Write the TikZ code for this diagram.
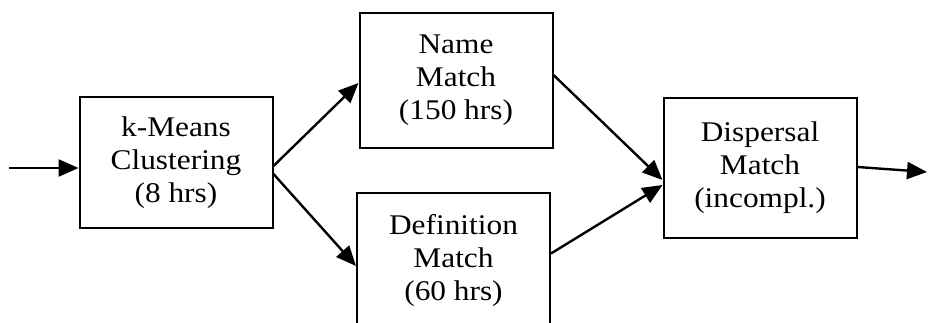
\documentclass[tikz,border=0pt]{standalone}
\usepackage{fontspec}
\setmainfont{Liberation Serif}
\newfontfamily\stagefont[FakeStretch=1.1]{Liberation Serif}
\usetikzlibrary{
  arrows.meta
}

\begin{document}
\begin{tikzpicture}[x=1pt,y=-1pt,>={Triangle[length=20pt,width=17pt]},
  stage/.style={draw,line width=2pt,minimum width=193pt,minimum height=135pt,
    align=center,inner sep=0pt,font=\stagefont\fontsize{28.5}{33}\selectfont},
  flow/.style={->,line width=2.4pt}]
\useasboundingbox (0,0) rectangle (928,323);
\node[stage,minimum height=131pt] (kmeans) at (176,162.5) {k-Means\\Clustering\\(8 hrs)};
\node[stage] (name) at (456,80.5) {Name\\Match\\(150 hrs)};
\node[stage] (defn) at (453.5,260.5) {Definition\\Match\\(60 hrs)};
\node[stage,minimum height=140pt] (disp) at (760,168) {Dispersal\\Match\\(incompl.)};
\coordinate (in) at (9,168);
\coordinate (out) at (927,172);
\draw[flow] (in) -- (in -| kmeans.west);
\draw[flow] ([yshift=-3.5pt]kmeans.east) -- ([yshift=-2.5pt]name.west);
\draw[flow] ([yshift=-11.5pt]kmeans.east) -- ([yshift=-5.5pt]defn.west);
\draw[flow] ([yshift=5.5pt]name.east) -- ([yshift=-12pt]disp.west);
\draw[flow] ([yshift=7pt]defn.east) -- ([yshift=-17pt]disp.west);
\draw[flow] ([yshift=1pt]disp.east) -- (out);
\end{tikzpicture}
\end{document}
